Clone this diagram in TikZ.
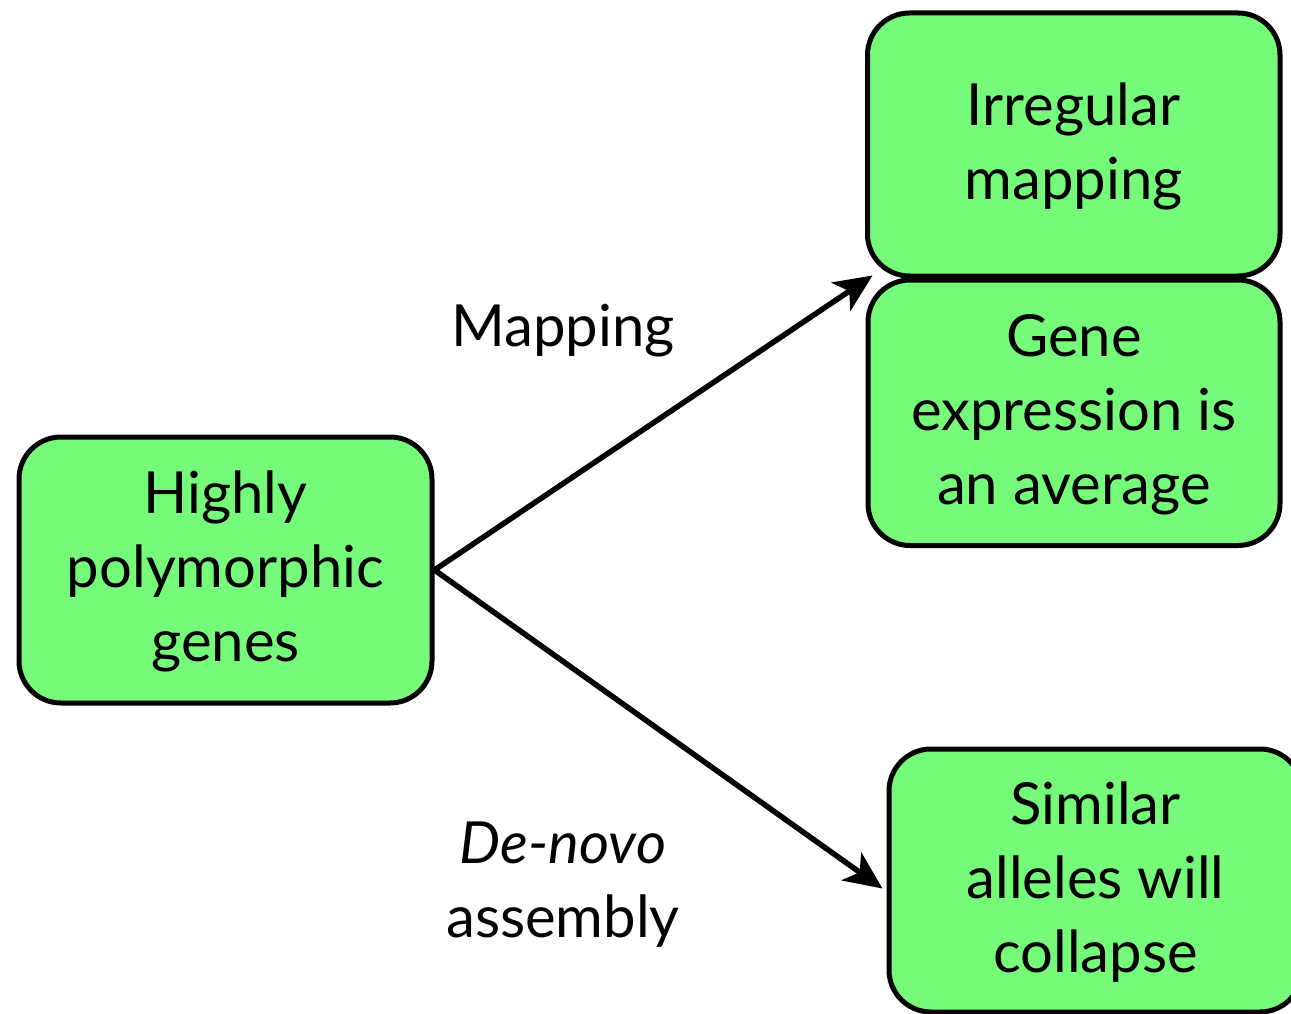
\documentclass[tikz,border=0pt]{standalone}
\usepackage{fontspec}
\setmainfont{Lato}
\usetikzlibrary{arrows.meta}
\definecolor{boxgreen}{RGB}{118,250,122}
% shift a text block down without changing its reported size
\newcommand{\lowered}[1]{\raisebox{-3pt}[\height][\depth]{\begin{tabular}{@{}c@{}}#1\end{tabular}}}
\tikzset{
  box/.style={draw=black, line width=5pt, fill=boxgreen, rounded corners=42pt,
    align=center, inner sep=0pt, font=\fontsize{58}{74}\selectfont},
  flow/.style={line width=5.5pt, -{Stealth[length=38pt, width=34pt, inset=10pt]}},
  lbl/.style={align=center, inner sep=0pt, font=\fontsize{58}{74}\selectfont}
}
\begin{document}
\begin{tikzpicture}[x=1pt, y=-1pt]
  \useasboundingbox (0,0) rectangle (1291,1014);
  \clip (0,0) rectangle (1291,1014);

  % boxes
  \node[box, minimum width=413pt, minimum height=266pt] (hpg) at (225.5,570)
    {\lowered{Highly\\polymorphic\\genes}};
  \node[box, minimum width=412.5pt, minimum height=263pt] (irr) at (1073.75,144.5)
    {\lowered{Irregular\\mapping}};
  \node[box, minimum width=412pt, minimum height=265.5pt] (gene) at (1074,412.75)
    {\lowered{Gene\\expression is\\an average}};
  \node[box, minimum width=413pt, minimum height=263pt] (sim) at (1095.5,880.5)
    {\lowered{Similar\\alleles will\\collapse}};

  % arrow labels
  \node[lbl] (map) at (563,331) {Mapping};
  \node[lbl] (den) at (563,885) {\itshape De-novo\\assembly};

  % connectors
  \draw[flow] (hpg.east) -- ([xshift=7.5pt, yshift=3pt]irr.south west);
  \draw[flow] (hpg.east) -- ([xshift=-4pt, yshift=-8pt]sim.west);
\end{tikzpicture}
\end{document}
